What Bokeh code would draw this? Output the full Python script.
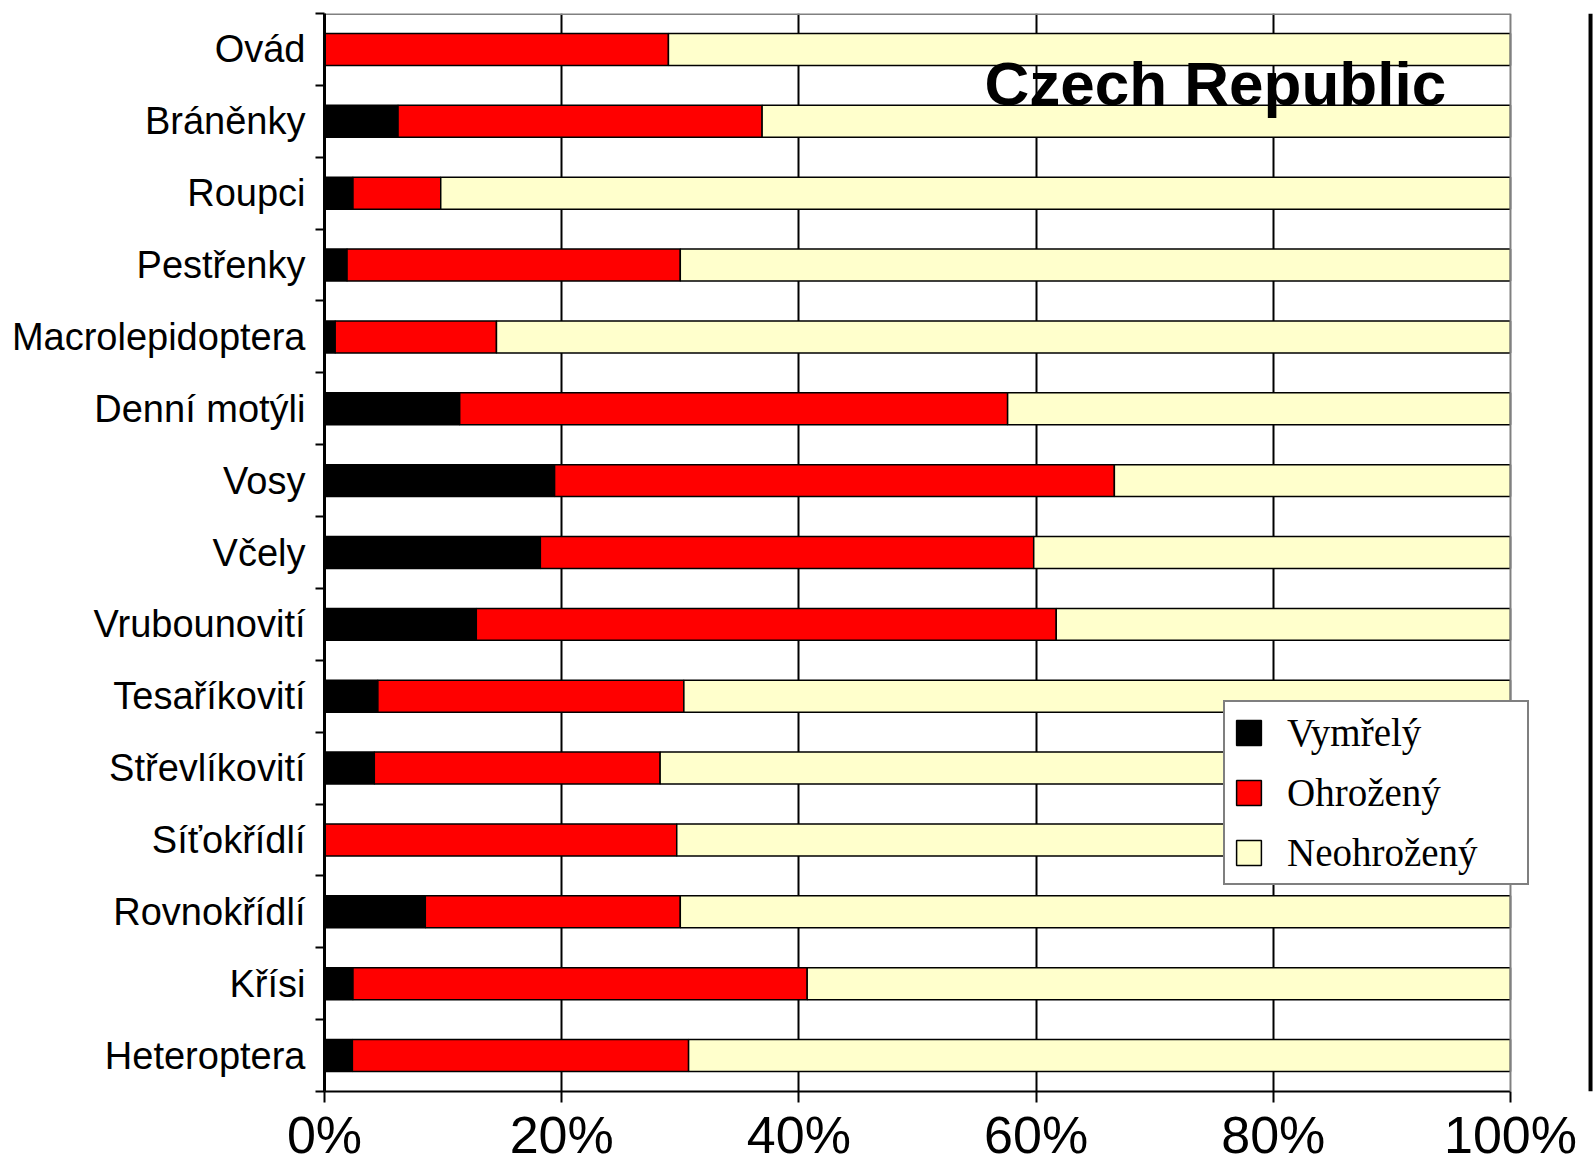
from bokeh.plotting import figure
from bokeh.models import Range1d, FixedTicker, Span, Label, PrintfTickFormatter, ColumnDataSource
from bokeh.embed import file_html
from bokeh.resources import INLINE

categories = ["Ovád", "Bráněnky", "Roupci", "Pestřenky", "Macrolepidoptera",
              "Denní motýli", "Vosy", "Včely", "Vrubounovití", "Tesaříkovití",
              "Střevlíkovití", "Síťokřídlí", "Rovnokřídlí", "Křísi", "Heteroptera"]
extinct = [0.0, 6.2, 2.4, 1.9, 0.9, 11.4, 19.4, 18.2, 12.8, 4.5, 4.2, 0.0, 8.5, 2.4, 2.35]
threatened = [29.0, 30.7, 7.4, 28.1, 13.6, 46.2, 47.2, 41.6, 48.9, 25.8, 24.1, 29.7, 21.5, 38.3, 28.35]
series_names = ["Vymřelý", "Ohrožený", "Neohrožený"]
series_colors = ["#000000", "#FF0000", "#FFFFCC"]
x_ticks = [0, 20, 40, 60, 80, 100]
title_text = "Czech Republic"

n = len(categories)
safe = [round(100 - e - t, 2) for e, t in zip(extinct, threatened)]
ypos = [n - i - 0.5 for i in range(n)]
bounds = [float(k) for k in range(n + 1)]

src = ColumnDataSource(dict(y=ypos, cat=categories, extinct=extinct,
                            threatened=threatened, safe=safe))

FONT = "Liberation Sans"

p = figure(width=1593, height=1166, output_backend="svg", toolbar_location=None,
           x_range=Range1d(0, 107.0), y_range=Range1d(0, n),
           min_border_left=324, min_border_right=0, min_border_top=13, min_border_bottom=40)
p.outline_line_color = None
p.background_fill_color = "white"
p.border_fill_color = "white"

p.hbar_stack(["extinct", "threatened", "safe"], y="y", height=0.445, source=src,
             color=series_colors, line_color="black", line_width=1.5,
             legend_label=series_names)

# y axis: labels at centers, ticks at category boundaries
yax = p.yaxis[0]
yax.ticker = FixedTicker(ticks=ypos, minor_ticks=bounds)
yax.major_label_overrides = {y: c for y, c in zip(ypos, categories)}
yax.major_tick_out = 0
yax.major_tick_in = 0
yax.minor_tick_out = 9
yax.minor_tick_in = 0
yax.minor_tick_line_color = "black"
yax.minor_tick_line_width = 2
yax.axis_line_color = "black"
yax.axis_line_width = 3
yax.major_label_standoff = 10
yax.major_label_text_font = FONT
yax.major_label_text_font_size = "38px"
yax.major_label_text_color = "black"

xax = p.xaxis[0]
xax.ticker = FixedTicker(ticks=x_ticks, minor_ticks=[])
xax.formatter = PrintfTickFormatter(format="%d%%")
xax.bounds = (0, 100)
xax.major_tick_out = 11
xax.major_tick_in = 0
xax.major_tick_line_width = 2
xax.major_tick_line_color = "black"
xax.axis_line_width = 2
xax.axis_line_color = "black"
xax.major_label_standoff = 3
xax.major_label_text_font = FONT
xax.major_label_text_font_size = "52px"
xax.major_label_text_color = "black"

p.ygrid.visible = False
p.xgrid.ticker = FixedTicker(ticks=x_ticks[1:-1])
p.xgrid.grid_line_color = "black"
p.xgrid.grid_line_width = 2
p.xgrid.level = "underlay"

# plot-area border (grey) top and right
p.segment(x0=[0], y0=[n], x1=[100], y1=[n], line_color="#808080", line_width=3)
p.add_layout(Span(location=100, dimension="height", line_color="#808080", line_width=2))
# black edge line at far right
p.add_layout(Span(location=106.75, dimension="height", line_color="black", line_width=4))

p.add_layout(Label(x=55.65, y=13.54, text=title_text, text_font=FONT,
                   text_font_size="62px", text_font_style="bold", text_color="black"))

leg = p.legend[0]
leg.location = (899, 206)
leg.border_line_color = "black"
leg.border_line_width = 2.5
leg.background_fill_color = "white"
leg.background_fill_alpha = 1
leg.padding = 8
leg.spacing = 15
leg.margin = 0
leg.label_height = 40
leg.glyph_height = 31
leg.glyph_width = 31
leg.label_standoff = 23
leg.label_width = 232
leg.label_text_font = "Liberation Serif"
leg.label_text_font_size = "39px"
leg.label_text_color = "black"

open("out.html", "w").write(file_html(p, INLINE))
